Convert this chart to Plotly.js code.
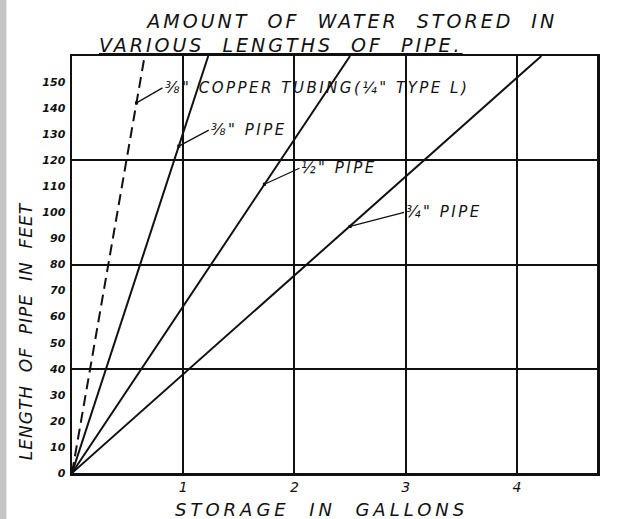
<!DOCTYPE html>
<html>
<head>
<meta charset="utf-8">
<script src="https://cdn.plot.ly/plotly-3.0.1.min.js"></script>
<style>html,body{margin:0;padding:0;background:#fff;}#chart{width:618px;height:519px;}</style>
</head>
<body>
<div id="chart"></div>
<script>
// Length of pipe (feet) at the two ends of each drawn line
const lengthFt = [0, 160];
// Storage in gallons for those lengths
const copperTubing38Gal = [0, 0.653];
const pipe38Gal = [0, 1.225];
const pipe12Gal = [0, 2.5];
const pipe34Gal = [0, 4.22];

const xTickVals = [1, 2, 3, 4];
const xTickText = ['1', '2', '3', '4'];
const yTickVals = [0, 10, 20, 30, 40, 50, 60, 70, 80, 90, 100, 110, 120, 130, 140, 150];
const yGridVals = [40, 80, 120];

// label texts and the points (gallons, feet) their leaders touch
const labelTexts = ['⅜" COPPER TUBING(¼" TYPE L)', '⅜" PIPE', '½" PIPE', '¾" PIPE'];
const labelTipGal = [0.58, 0.96, 1.73, 2.5];
const labelTipFt = [142, 125.4, 110.8, 94.6];
const labelAx = [26, 30, 35, 54];
const labelAy = [-15, -16, -16, -14];

const FONT = 'DejaVu Sans, sans-serif';
const ink = '#111';
const sp = (t, px, extra) => '<span style="letter-spacing:' + px + 'px' + (extra ? ';' + extra : '') + '">' + t + '</span>';

const traces = [
  {x: copperTubing38Gal, y: lengthFt, name: '3/8" copper tubing', mode: 'lines',
   line: {color: ink, width: 2, dash: '11px,6px'}},
  {x: pipe38Gal, y: lengthFt, name: '3/8" pipe', mode: 'lines', line: {color: ink, width: 2}},
  {x: pipe12Gal, y: lengthFt, name: '1/2" pipe', mode: 'lines', line: {color: ink, width: 2}},
  {x: pipe34Gal, y: lengthFt, name: '3/4" pipe', mode: 'lines', line: {color: ink, width: 2}}
];
// invisible trace to carry the second y axis (grid lines at 40/80/120)
traces.push({x: [0], y: [0], yaxis: 'y2', mode: 'markers', marker: {opacity: 0}, showlegend: false, hoverinfo: 'skip'});

const annotations = labelTexts.map((t, i) => ({
  text: sp(t, 2.5), x: labelTipGal[i], y: labelTipFt[i], xref: 'x', yref: 'y',
  ax: labelAx[i], ay: labelAy[i], xanchor: 'left', yanchor: 'middle',
  showarrow: true, arrowhead: 7, arrowsize: 0.6, arrowwidth: 1.3, arrowcolor: ink,
  font: {family: FONT, size: 15, color: ink, style: 'italic'}
}));
annotations.push({
  text: sp('VARIOUS  LENGTHS  OF  PIPE.', 3, 'text-decoration:underline'), xref: 'paper', yref: 'paper',
  x: 0.398, y: 1.0, yshift: 11, xanchor: 'center', yanchor: 'middle', showarrow: false,
  font: {family: FONT, size: 19, color: ink, style: 'italic'}
});
annotations.push({
  text: sp('LENGTH  OF  PIPE  IN  FEET', 1), xref: 'paper', yref: 'paper', textangle: -90,
  x: 0, y: 0.34, xshift: -46, xanchor: 'center', yanchor: 'middle', showarrow: false,
  font: {family: FONT, size: 17, color: ink, style: 'italic'}
});
annotations.push({
  text: sp('STORAGE  IN  GALLONS', 4), xref: 'paper', yref: 'paper',
  x: 0.475, y: 0, yshift: -36, xanchor: 'center', yanchor: 'middle', showarrow: false,
  font: {family: FONT, size: 18, color: ink, style: 'italic'}
});

const layout = {
  width: 618, height: 519,
  margin: {l: 72, r: 21, t: 56, b: 46},
  paper_bgcolor: '#fff', plot_bgcolor: '#fff',
  showlegend: false,
  title: {text: sp('AMOUNT  OF  WATER  STORED  IN', 3), x: 0.57, xanchor: 'center', y: 0.958, yanchor: 'middle',
          font: {family: FONT, size: 19, color: ink, style: 'italic'}},
  xaxis: {range: [0, 4.72], tickvals: xTickVals, ticktext: xTickText, showgrid: true,
          gridcolor: ink, gridwidth: 2, zeroline: false, showline: true, linecolor: ink,
          linewidth: 2.5, mirror: true, ticks: '', ticklabelstandoff: 0,
          tickfont: {family: FONT, size: 14, color: ink, style: 'italic'}},
  yaxis: {range: [0, 160], tickvals: yTickVals, showgrid: false, zeroline: false,
          showline: true, linecolor: ink, linewidth: 2.5, mirror: true, ticks: '',
          ticklabelstandoff: 2,
          tickfont: {family: FONT, size: 11, color: ink, style: 'italic', weight: 'bold'}},
  yaxis2: {range: [0, 160], overlaying: 'y', side: 'right', tickvals: yGridVals,
           showticklabels: false, showgrid: true, gridcolor: ink, gridwidth: 2,
           zeroline: false, showline: false, ticks: ''},
  annotations: annotations,
  shapes: [
    {type: 'rect', xref: 'paper', yref: 'paper', x0: -0.14, x1: -0.125, y0: -0.12, y1: 1.2,
     fillcolor: '#c4c4c4', line: {width: 0}, layer: 'below'}
  ]
};

Plotly.newPlot('chart', traces, layout, {displayModeBar: false, staticPlot: true});
</script>
</body>
</html>
